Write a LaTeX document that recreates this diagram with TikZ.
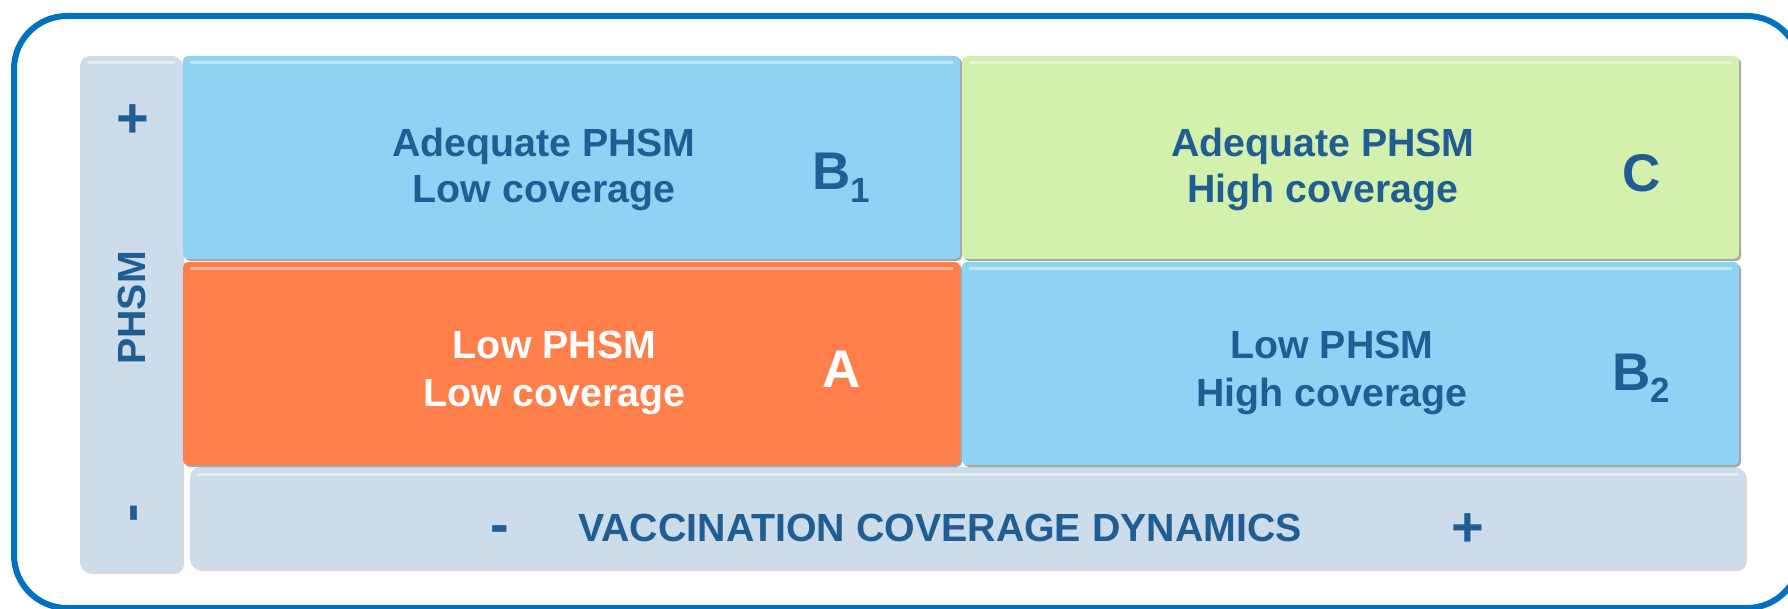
\documentclass[tikz,border=0pt]{standalone}
\usepackage{fontspec}
\setmainfont{Liberation Sans}
\usetikzlibrary{positioning}
\usetikzlibrary{shadows}
\definecolor{frameblue}{RGB}{0,112,192}
\definecolor{inkblue}{RGB}{31,93,147}
\definecolor{skyfill}{RGB}{143,211,244}
\definecolor{limefill}{RGB}{211,240,172}
\definecolor{coralfill}{RGB}{255,127,75}
\definecolor{mistfill}{RGB}{204,220,234}
\tikzset{
shine/.style = {path picture={
    \draw[white, opacity=.45, line width=3pt, line cap=round]
      ([xshift=8pt,yshift=-7pt]path picture bounding box.north west) --
      ([xshift=-8pt,yshift=-7pt]path picture bounding box.north east);}},
quad/.style = {fill=#1, rounded corners=5pt, shine,
               minimum width=777pt, minimum height=203pt,
               inner sep=0pt, outer sep=0pt,
               drop shadow={shadow xshift=2pt, shadow yshift=-2pt,
                            opacity=.35, fill=black}},
panel/.style = {fill=mistfill, rounded corners=10pt, shine,
                inner sep=0pt, outer sep=0pt,
                drop shadow={shadow xshift=2pt, shadow yshift=-2pt,
                             opacity=.15, fill=black}},
lbl/.style = {font=\bfseries\fontsize{39.3}{46}\selectfont,
              text=inkblue, align=center, inner sep=0pt},
lowlbl/.style = {lbl, font=\bfseries\fontsize{39.3}{48}\selectfont},
tag/.style = {font=\bfseries\fontsize{53}{53}\selectfont,
              text=inkblue, inner sep=0pt},
sign/.style = {font=\bfseries\fontsize{56}{56}\selectfont,
               text=inkblue, inner sep=0pt}
}
\newcommand{\subtag}[1]{\raisebox{-13pt}{\fontsize{35}{35}\selectfont #1}}
\begin{document}
\begin{tikzpicture}[x=1pt,y=-1pt]
    \useasboundingbox (0,0) rectangle (1788,609);
    \draw[frameblue, line width=6pt, rounded corners=53pt] (14,16) rectangle (1800,608);
    
    % axes
    \node[panel, minimum width=102pt, minimum height=516pt] (phsm) at (131,314) {};
    \node[panel, minimum width=1555pt, minimum height=102pt] (vacc) at (967.5,518) {};
    
    % quadrants
    \node[quad=skyfill] (b1) at (571.5,157.5) {};
    \node[quad=limefill, right=2pt of b1] (c) {};
    \node[quad=coralfill, below=3pt of b1] (a) {};
    \node[quad=skyfill, right=2pt of a] (b2) {};
    
    % quadrant texts
    \node[lbl] (b1txt) at (544,169) {Adequate PHSM\\Low coverage};
    \node[lbl] (ctxt) at (1323,169) {Adequate PHSM\\High coverage};
    \node[lowlbl, text=white] (atxt) at (554.5,373) {Low PHSM\\Low coverage};
    \node[lowlbl] (b2txt) at (1332,373) {Low PHSM\\High coverage};
    
    \node[tag, anchor=base west] (b1tag) at (812,190) {B\subtag{1}};
    \node[tag, anchor=base] (ctag) at (1641.5,192) {C};
    \node[tag, anchor=base, text=white] (atag) at (841.5,388) {A};
    \node[tag, anchor=base west] (b2tag) at (1612,390) {B\subtag{2}};
    
    % axis texts
    \node[sign] (phsmplus) at (132.5,121) {+};
    \node[lbl, rotate=90] (phsmtxt) at (132,308) {PHSM};
    \node[sign, rotate=90] (phsmminus) at (140,513.5) {-};
    \node[sign] (vaccminus) at (500,535) {-};
    \node[lbl, anchor=base] (vacctxt) at (940,541) {VACCINATION COVERAGE DYNAMICS};
    \node[sign] (vaccplus) at (1467.6,530) {+};
\end{tikzpicture}
\end{document}
